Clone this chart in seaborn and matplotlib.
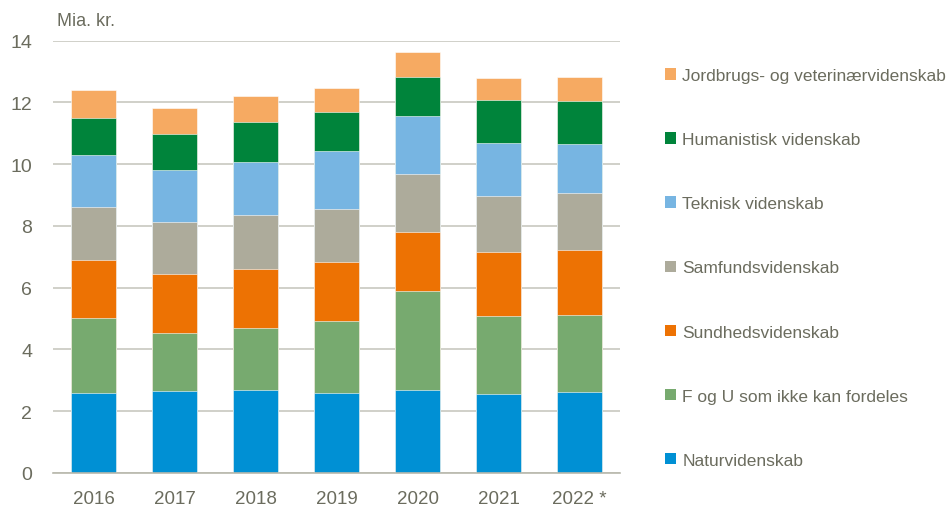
import matplotlib
matplotlib.use("Agg")
import matplotlib.pyplot as plt
from matplotlib import font_manager
from matplotlib.patches import Patch
import seaborn as sns
import pandas as pd
import numpy as np

# Years and fields (bottom to top in the stack)
years = ["2016", "2017", "2018", "2019", "2020", "2021", "2022 *"]
fields = ["Naturvidenskab", "F og U som ikke kan fordeles", "Sundhedsvidenskab",
          "Samfundsvidenskab", "Teknisk videnskab", "Humanistisk videnskab",
          "Jordbrugs- og veterinærvidenskab"]

# Mia. kr. per field
natur = [2.60, 2.64, 2.70, 2.60, 2.70, 2.56, 2.63]
fou = [2.41, 1.89, 1.98, 2.32, 3.18, 2.52, 2.48]
sundhed = [1.90, 1.90, 1.92, 1.91, 1.94, 2.08, 2.10]
samfund = [1.69, 1.69, 1.74, 1.73, 1.85, 1.80, 1.85]
teknisk = [1.71, 1.69, 1.72, 1.87, 1.90, 1.72, 1.59]
human = [1.19, 1.17, 1.31, 1.25, 1.26, 1.41, 1.41]
jordbrug = [0.89, 0.84, 0.83, 0.78, 0.79, 0.69, 0.76]

colors = ["#0090d4", "#77aa6f", "#ed7203", "#adab9b", "#77b5e2", "#00843b", "#f6aa62"]
text_col = "#6b6c5e"

sns.set_style("white")
names = {f.name for f in font_manager.fontManager.ttflist}
fam = "Liberation Sans Narrow" if "Liberation Sans Narrow" in names else "Liberation Sans"
plt.rcParams["font.family"] = [fam, "DejaVu Sans"]

series = [natur, fou, sundhed, samfund, teknisk, human, jordbrug]
df = pd.DataFrame({f: v for f, v in zip(fields, series)}, index=years)
cum = df.cumsum(axis=1)

fig = plt.figure(figsize=(9.49, 5.06), dpi=100)
ax = fig.add_axes([53 / 949, 1 - 474 / 506, 567 / 949, 432.3 / 506])

# draw tallest first so each stacked segment shows
for f, c in reversed(list(zip(fields, colors))):
    sns.barplot(x=years, y=cum[f].values, color=c, width=0.55, ax=ax,
                saturation=1, edgecolor="white", linewidth=0.4)

ax.set_ylim(0, 14)
ax.set_xlim(-0.5, 6.5)
ax.set_yticks(range(0, 15, 2))
ax.yaxis.grid(True, color="#c4c4ba", linewidth=1.1)
ax.set_axisbelow(True)
for s in ["left", "right", "top"]:
    ax.spines[s].set_visible(False)
ax.spines["bottom"].set_color("#b8b8ac")
ax.spines["bottom"].set_linewidth(1.2)
ax.tick_params(axis="y", length=0, labelsize=14, colors=text_col, pad=15)
ax.tick_params(axis="x", length=0, labelsize=13.5, colors=text_col, pad=12)
ax.set_xlabel("")
ax.set_ylabel("")

fig.text(57 / 949, 1 - 22 / 506, "Mia. kr.", fontsize=13, color=text_col, va="center", ha="left")

handles = [Patch(facecolor=c, edgecolor="none") for c in colors][::-1]
leg = fig.legend(handles, fields[::-1], loc="upper left", bbox_to_anchor=(665 / 949, 1 - 69 / 506),
                 frameon=False, fontsize=12.5, labelcolor=text_col, handlelength=0.65,
                 handleheight=0.65, handletextpad=0.35, labelspacing=2.83, borderaxespad=0,
                 borderpad=0)

fig.savefig("out.png", dpi=100)
